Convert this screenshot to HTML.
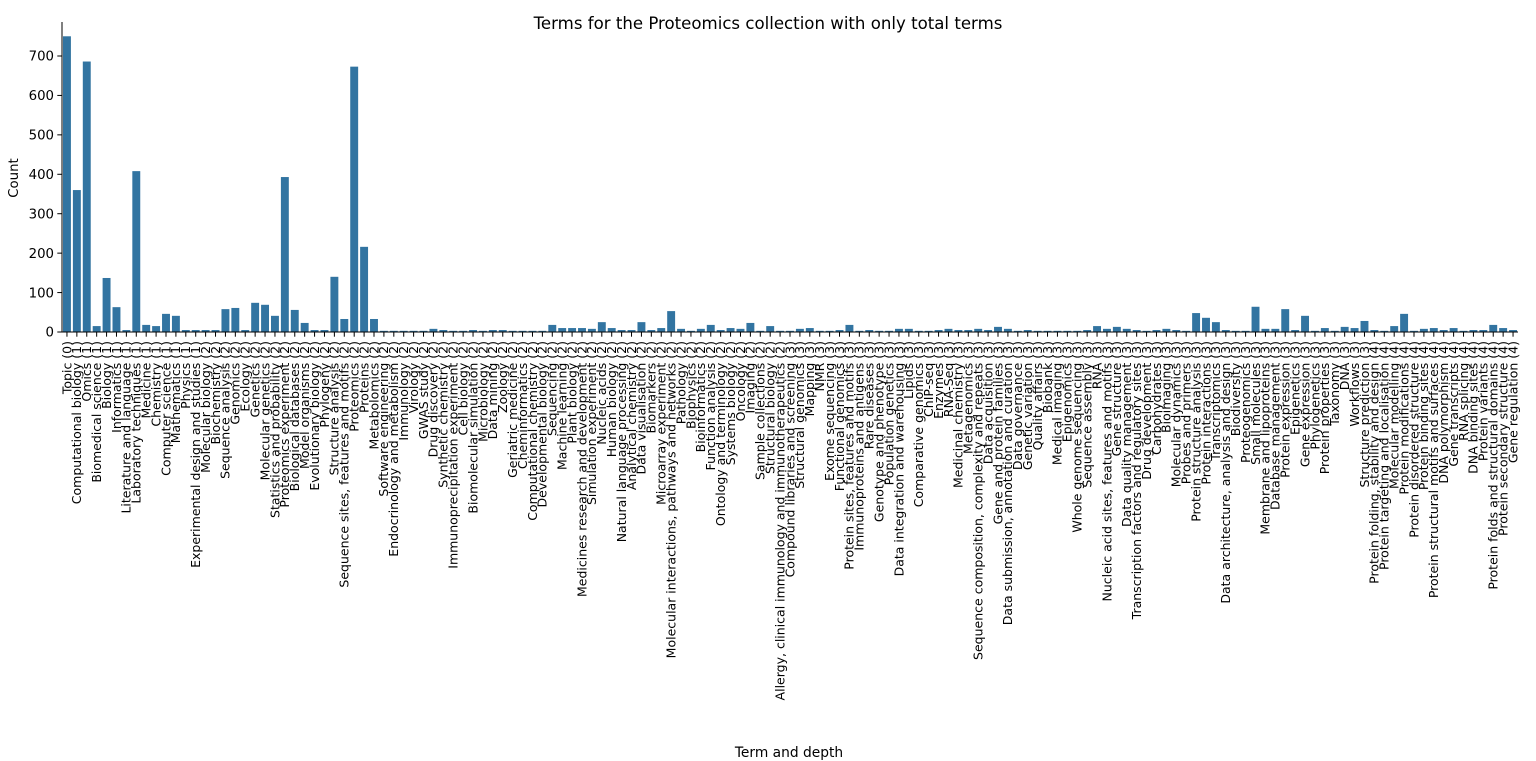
<!DOCTYPE html>
<html><head><meta charset="utf-8"><style>
html,body{margin:0;padding:0;background:#fff;}
svg{display:block;font-family:"DejaVu Sans","Liberation Sans",sans-serif;}
</style></head><body>
<svg id="chart" width="1536" height="761" viewBox="0 0 1536 761" xmlns="http://www.w3.org/2000/svg">
<text x="768" y="29" text-anchor="middle" font-size="16.6">Terms for the Proteomics collection with only total terms</text>
<text transform="translate(18,178) rotate(-90)" text-anchor="middle" font-size="13.3">Count</text>
<text x="789" y="757" text-anchor="middle" font-size="13.8">Term and depth</text>
<g id="bars"></g>
<g id="yaxis"></g>
<g id="xaxis"></g>
</svg>
<script>
const categories = ["Topic (0)","Computational biology (1)","Omics (1)","Biomedical science (1)","Biology (1)","Informatics (1)","Literature and language (1)","Laboratory techniques (1)","Medicine (1)","Chemistry (1)","Computer science (1)","Mathematics (1)","Physics (1)","Experimental design and studies (1)","Molecular biology (2)","Biochemistry (2)","Sequence analysis (2)","Genomics (2)","Ecology (2)","Genetics (2)","Molecular genetics (2)","Statistics and probability (2)","Proteomics experiment (2)","Biological databases (2)","Model organisms (2)","Evolutionary biology (2)","Phylogeny (2)","Structure analysis (2)","Sequence sites, features and motifs (2)","Proteomics (2)","Proteins (2)","Metabolomics (2)","Software engineering (2)","Endocrinology and metabolism (2)","Immunology (2)","Virology (2)","GWAS study (2)","Drug discovery (2)","Synthetic chemistry (2)","Immunoprecipitation experiment (2)","Cell biology (2)","Biomolecular simulation (2)","Microbiology (2)","Data mining (2)","Zoology (2)","Geriatric medicine (2)","Cheminformatics (2)","Computational chemistry (2)","Developmental biology (2)","Sequencing (2)","Machine learning (2)","Plant biology (2)","Medicines research and development (2)","Simulation experiment (2)","Nucleic acids (2)","Human biology (2)","Natural language processing (2)","Analytical chemistry (2)","Data visualisation (2)","Biomarkers (2)","Microarray experiment (2)","Molecular interactions, pathways and networks (2)","Pathology (2)","Biophysics (2)","Bioinformatics (2)","Function analysis (2)","Ontology and terminology (2)","Systems biology (2)","Oncology (2)","Imaging (2)","Sample collections (2)","Structural biology (2)","Allergy, clinical immunology and immunotherapeutics (2)","Compound libraries and screening (3)","Structural genomics (3)","Mapping (3)","NMR (3)","Exome sequencing (3)","Functional genomics (3)","Protein sites, features and motifs (3)","Immunoproteins and antigens (3)","Rare diseases (3)","Genotype and phenotype (3)","Population genetics (3)","Data integration and warehousing (3)","Lipids (3)","Comparative genomics (3)","ChIP-seq (3)","Enzymes (3)","RNA-Seq (3)","Medicinal chemistry (3)","Metagenomics (3)","Sequence composition, complexity and repeats (3)","Data acquisition (3)","Gene and protein families (3)","Data submission, annotation and curation (3)","Data governance (3)","Genetic variation (3)","Quality affairs (3)","Biobank (3)","Medical imaging (3)","Epigenomics (3)","Whole genome sequencing (3)","Sequence assembly (3)","RNA (3)","Nucleic acid sites, features and motifs (3)","Gene structure (3)","Data quality management (3)","Transcription factors and regulatory sites (3)","Drug development (3)","Carbohydrates (3)","Bioimaging (3)","Molecular dynamics (3)","Probes and primers (3)","Protein structure analysis (3)","Protein interactions (3)","Transcriptomics (3)","Data architecture, analysis and design (3)","Biodiversity (3)","Proteogenomics (3)","Small molecules (3)","Membrane and lipoproteins (3)","Database management (3)","Protein expression (3)","Epigenetics (3)","Gene expression (3)","Phylogenetics (3)","Protein properties (3)","Taxonomy (3)","DNA (3)","Workflows (3)","Structure prediction (3)","Protein folding, stability and design (4)","Protein targeting and localisation (4)","Molecular modelling (4)","Protein modifications (4)","Protein disordered structure (4)","Protein binding sites (4)","Protein structural motifs and surfaces (4)","DNA polymorphism (4)","Gene transcripts (4)","RNA splicing (4)","DNA binding sites (4)","Protein variants (4)","Protein folds and structural domains (4)","Protein secondary structure (4)","Gene regulation (4)"];
const counts = [750,360,686,15,137,63,5,408,18,15,46,41,5,5,5,5,58,61,5,74,69,41,393,56,23,5,5,140,33,673,216,33,3,3,3,3,3,8,5,3,3,5,3,5,5,3,3,3,3,18,10,10,10,8,25,10,5,5,25,5,10,53,8,3,8,18,5,10,8,23,3,15,3,3,8,10,3,3,5,18,3,5,3,3,8,8,3,3,5,8,5,5,8,5,13,8,3,5,3,3,3,3,3,5,15,8,13,8,5,3,5,8,5,3,48,36,25,5,3,3,64,8,8,58,5,41,3,10,3,13,10,28,5,3,15,46,3,8,10,5,10,3,5,5,18,10,5];
const yTicks = [0,100,200,300,400,500,600,700];

const NS = "http://www.w3.org/2000/svg";
const left = 62, right = 1518, base = 332, pxPerUnit = 276/700;
const step = (right - left) / categories.length;
function xScale(i){ return left + (i + 0.5) * step; }
function yScale(v){ return base - v * pxPerUnit; }
function mk(tag, attrs, parent){ const e = document.createElementNS(NS, tag); for (const k in attrs) e.setAttribute(k, attrs[k]); parent.appendChild(e); return e; }

const bars = document.getElementById('bars');
const xaxis = document.getElementById('xaxis');
const yaxis = document.getElementById('yaxis');
const bw = step * 0.8;
categories.forEach((c, i) => {
  const v = counts[i];
  const r = mk('rect', {x: xScale(i) - bw/2, y: yScale(v), width: bw, height: base - yScale(v), fill: '#3274a1'}, bars);
  
  
  const t = mk('line', {x1: xScale(i), x2: xScale(i), y1: base, y2: base + 4.7, stroke: '#000', 'stroke-width': 1}, xaxis);
  
  
  const lb = mk('text', {transform: `translate(${xScale(i) + 4.3},${base + 9}) rotate(-90)`, 'text-anchor': 'end', 'font-size': '12.5'}, xaxis);
  lb.textContent = c;
  
  
});
yTicks.forEach(v => {
  const t = mk('line', {x1: left - 4.7, x2: left, y1: yScale(v), y2: yScale(v), stroke: '#000', 'stroke-width': 1}, yaxis);
  
  
  const lb = mk('text', {x: left - 8, y: yScale(v) + 4.7, 'text-anchor': 'end', 'font-size': '13.3'}, yaxis);
  lb.textContent = v;
  
  
});
const ls = mk('line', {x1: left, x2: left, y1: 22, y2: base, stroke: '#000', 'stroke-width': 1}, yaxis);


const bs = mk('line', {x1: left, x2: right, y1: base, y2: base, stroke: '#000', 'stroke-width': 1}, xaxis);


</script>
</body></html>
